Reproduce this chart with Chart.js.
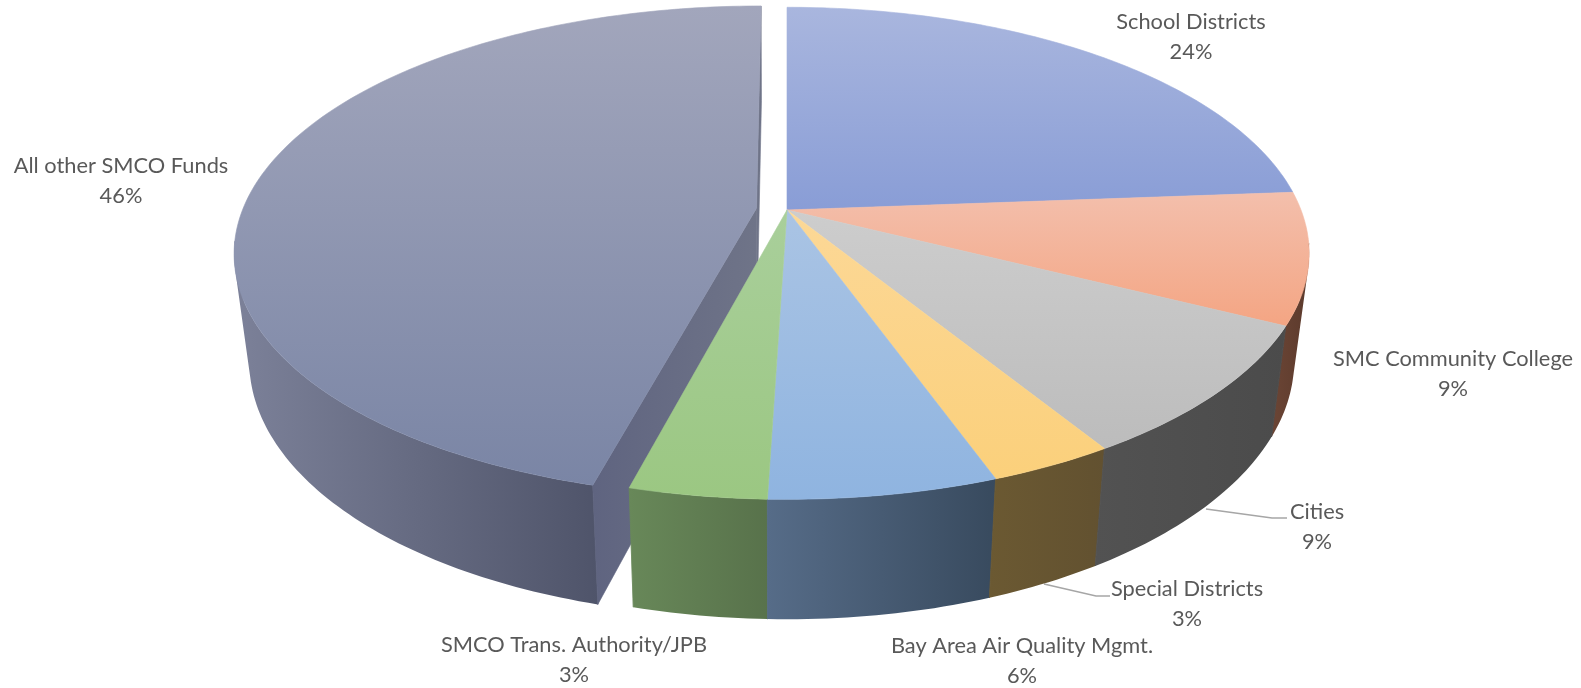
<!DOCTYPE html>
<html>
<head>
<meta charset="utf-8">
<style>html,body{margin:0;padding:0;background:#fff}canvas{display:block}</style>
<script src="https://cdn.jsdelivr.net/npm/chart.js@4"></script>
</head>
<body>
<canvas id="c" width="1581" height="688"></canvas>
<script>
const categories = ['School Districts','SMC Community College','Cities','Special Districts','Bay Area Air Quality Mgmt.','SMCO Trans. Authority/JPB','All other SMCO Funds'];
const shares = [23.8, 8.6, 8.8, 3.3, 6.0, 3.6, 45.9];
const shareLabels = ['24%','9%','9%','3%','6%','3%','46%'];
const explode = [0,0,0,0,0,0,20];

// top-face colours (far -> near), wall colours (left -> right)
const topColors = [['#a9b6de','#899dd6'],['#f3bfac','#f4a583'],['#cdcdcd','#bcbcbc'],['#fcd897','#fbd07b'],['#aac4e4','#8fb4e0'],['#a9cf9b','#9bc782'],['#a2a6bc','#7a85a5']];
const wallColors = [['#5a6a96','#4f5e88'],['#6b4535','#5c3a2c'],['#525252','#4b4b4b'],['#6b5932','#625130'],['#566c88','#384a5e'],['#688859','#58724b'],['#7c8199','#4f546a']];
const cutColors = ['#5f6480','#6f7488'];
const labelAnchors = [[1191,21.5],[1453,359],[1317,512],[1187,589],[1022,646],[574,645],[121,166]];
const leaders = [null,null,[[1206,509],[1272,518],[1287,518]],[[1044,584],[1096,596],[1110,596]],null,null,null];

const view = {cx:787, cy:210, rx:514, ry:238.4, p:0.176, x0:775, kx:0.972, ay:1.052, by:94};
function project(u,v){const s=1/(1-view.p*v);return [view.cx+view.rx*u*s, view.cy+view.ry*v*s];}
function lower(pt){return [view.x0+(pt[0]-view.x0)*view.kx, view.ay*pt[1]+view.by];}

function sliceGeom(el){
  const R=el.outerRadius, off=(el.options.offset||0)/R, mid=(el.startAngle+el.endAngle)/2;
  const ox=off*Math.cos(mid), oy=off*Math.sin(mid), arc=[];
  const n=Math.max(8,Math.ceil((el.endAngle-el.startAngle)*60));
  for(let i=0;i<=n;i++){const a=el.startAngle+(el.endAngle-el.startAngle)*i/n;arc.push(project(ox+Math.cos(a),oy+Math.sin(a)));}
  return {arc, apex:project(ox,oy)};
}
function addPoly(ctx,pts){pts.forEach((p,i)=>i?ctx.lineTo(p[0],p[1]):ctx.moveTo(p[0],p[1]));ctx.closePath();}
function area(pts){let s=0;pts.forEach((p,i)=>{const q=pts[(i+1)%pts.length];s+=p[0]*q[1]-q[0]*p[1];});return s;}
function bbox(pts){const xs=pts.map(p=>p[0]),ys=pts.map(p=>p[1]);return {x0:Math.min(...xs),x1:Math.max(...xs),y0:Math.min(...ys),y1:Math.max(...ys)};}
function fill(ctx,pts,g){ctx.beginPath();addPoly(ctx,pts);ctx.fillStyle=g;ctx.fill();ctx.strokeStyle=g;ctx.lineWidth=0.6;ctx.stroke();}
function grad(ctx,pts,cols,vertical){const b=bbox(pts);const g=vertical?ctx.createLinearGradient(0,b.y0,0,b.y1):ctx.createLinearGradient(b.x0,0,b.x1,0);g.addColorStop(0,cols[0]);g.addColorStop(1,cols[1]);return g;}

const pie3d = {
  id:'pie3d',
  beforeDatasetDraw(chart){
    const ctx=chart.ctx, arcs=chart.getDatasetMeta(0).data, geo=arcs.map(sliceGeom);
    ctx.save();
    // leader lines sit behind the walls
    ctx.strokeStyle='#a6a6a6';ctx.lineWidth=1.5;
    leaders.forEach(l=>{if(!l)return;ctx.beginPath();l.forEach((p,i)=>i?ctx.lineTo(p[0],p[1]):ctx.moveTo(p[0],p[1]));ctx.stroke();});
    const wall=i=>{
      const a=geo[i].arc.filter(p=>p[1]>view.cy+30);
      if(a.length<2)return;
      const g=grad(ctx,a.map(lower).concat(a),wallColors[i],false);
      ctx.fillStyle=g;ctx.beginPath();
      for(let k=0;k<a.length-1;k++){
        const q=[a[k],a[k+1],lower(a[k+1]),lower(a[k])];
        addPoly(ctx,area(q)<0?q.reverse():q);
      }
      ctx.fill();
      ctx.strokeStyle=g;ctx.lineWidth=0.6;ctx.beginPath();
      addPoly(ctx,[a[0],lower(a[0])]);addPoly(ctx,[a[a.length-1],lower(a[a.length-1])]);
      ctx.stroke();
    };
    const cut=(i,end,col)=>{const g=geo[i];const e=end?g.arc[g.arc.length-1]:g.arc[0];const pts=[g.apex,e,lower(e),lower(g.apex)];fill(ctx,pts,col);};
    [1,6].forEach(wall);
    cut(6,true,cutColors[1]);
    cut(6,false,grad(ctx,[geo[6].arc[0],geo[6].apex],cutColors,false));
    [5,4,3,2].forEach(wall);
    geo.forEach((g,i)=>{const pts=[g.apex].concat(g.arc);fill(ctx,pts,grad(ctx,pts,topColors[i],true));});
    ctx.restore();
    return false;
  },
  afterDraw(chart){
    const ctx=chart.ctx;
    ctx.save();
    ctx.font='21.8px Lato';ctx.fillStyle='#595959';ctx.textAlign='center';ctx.textBaseline='middle';
    categories.forEach((c,i)=>{const [x,y]=labelAnchors[i];ctx.fillText(c,x,y);ctx.fillText(shareLabels[i],x,y+30);});
    ctx.restore();
  }
};

new Chart(document.getElementById('c'),{
  type:'pie',
  data:{labels:categories,datasets:[{data:shares,offset:explode,backgroundColor:topColors.map(c=>c[1]),borderWidth:0}]},
  options:{responsive:false,animation:false,layout:{padding:0},plugins:{legend:{display:false},tooltip:{enabled:false}}},
  plugins:[pie3d]
});
</script>
</body>
</html>
